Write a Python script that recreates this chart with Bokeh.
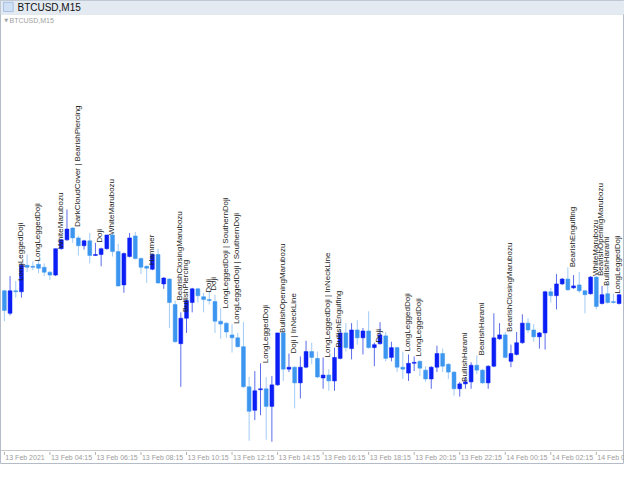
import math
from bokeh.plotting import figure
from bokeh.models import ColumnDataSource, Range1d, BoxAnnotation, Span
from bokeh.core.properties import value
from bokeh.embed import file_html
from bokeh.resources import INLINE

# ---- data (BTCUSD, M15) ----
open_ = [47000, 46770, 47000, 46990, 47260, 47250, 47270, 47240, 47190, 47160,
         47430, 47520, 47640, 47540, 47460, 47510, 47360, 47370, 47430, 47570,
         47400, 47060, 47350, 47560, 47330, 47250, 47220, 47370, 47070, 47120,
         46860, 46460, 46720, 46880, 47020, 46940, 46910, 46890, 46690, 46670,
         46550, 46520, 46430, 46020, 45780, 45990, 46000, 45820, 46040, 46570,
         46200, 46220, 46060, 46220, 46380, 46310, 46110, 46140, 46080, 46310,
         46570, 46410, 46600, 46520, 46590, 46420, 46460, 46540, 46320, 46420,
         46220, 46160, 46260, 46280, 46190, 46100, 46220, 46360, 46250, 46170,
         46000, 46050, 46070, 46240, 46190, 46060, 46230, 46510, 46550, 46280,
         46350, 46470, 46670, 46600, 46530, 46570, 46990, 46950, 47070, 47120,
         47030, 47060, 47000, 46970, 47140, 46870, 46970, 46890, 46870]
high = [47010, 47150, 47100, 47280, 47370, 47300, 47320, 47280, 47200, 47430,
        47530, 47830, 47650, 47560, 47520, 47590, 47490, 47440, 47570, 47580,
        47480, 47390, 47590, 47600, 47340, 47260, 47380, 47430, 47140, 47130,
        46900, 46780, 46910, 47030, 47030, 46980, 47000, 46960, 46820, 46680,
        46660, 46570, 46680, 46120, 46180, 46260, 46120, 46130, 46570, 46580,
        46360, 46230, 46330, 46490, 46470, 46380, 46320, 46200, 46420, 46600,
        46670, 46670, 46700, 46620, 46790, 46470, 46680, 46580, 46480, 46430,
        46380, 46350, 46330, 46290, 46230, 46230, 46440, 46410, 46260, 46180,
        46070, 46120, 46270, 46340, 46200, 46240, 46770, 46670, 46580, 46450,
        46580, 46760, 46720, 46660, 46580, 47000, 47030, 47170, 47130, 47240,
        47160, 47190, 47010, 47150, 47150, 47050, 47080, 46970, 46970]
low = [46690, 46750, 46930, 46930, 47190, 47210, 47180, 47150, 47110, 47150,
       47420, 47510, 47490, 47360, 47420, 47280, 47360, 47250, 47420, 47350,
       47040, 46980, 47340, 47320, 47170, 47080, 47210, 47070, 47020, 46620,
       46470, 46020, 46570, 46780, 46880, 46780, 46860, 46570, 46510, 46520,
       46370, 46420, 46010, 45470, 45680, 45730, 45480, 45460, 46030, 46080,
       46170, 45800, 45900, 46210, 46250, 46110, 46000, 45980, 45980, 46300,
       46380, 46300, 46450, 46350, 46410, 46230, 46450, 46280, 46280, 46170,
       46100, 46080, 46180, 46130, 46070, 46000, 46170, 46170, 46100, 45930,
       45920, 46000, 46000, 46150, 46050, 46000, 46220, 46500, 46310, 46220,
       46340, 46460, 46570, 46480, 46410, 46400, 46880, 46810, 47060, 47000,
       47020, 46980, 46770, 46960, 46810, 46860, 46870, 46870, 46860]
close = [46800, 47000, 46990, 47260, 47240, 47240, 47230, 47190, 47160, 47430,
         47520, 47630, 47540, 47460, 47510, 47360, 47370, 47430, 47570, 47400,
         47050, 47380, 47540, 47330, 47240, 47230, 47370, 47080, 47130, 46880,
         46480, 46720, 46900, 47020, 46950, 46910, 46900, 46690, 46660, 46580,
         46520, 46430, 46020, 45770, 45980, 46000, 45820, 46040, 46570, 46200,
         46220, 46060, 46220, 46380, 46320, 46120, 46140, 46080, 46320, 46570,
         46420, 46600, 46520, 46590, 46420, 46450, 46550, 46310, 46420, 46220,
         46200, 46260, 46270, 46210, 46100, 46220, 46360, 46230, 46170, 46000,
         46050, 46070, 46240, 46190, 46060, 46230, 46520, 46550, 46320, 46360,
         46470, 46670, 46600, 46530, 46570, 46990, 46950, 47070, 47120, 47010,
         47050, 47000, 46960, 47140, 46840, 46960, 46880, 46880, 46960]

pattern_bar = [2, 5, 9, 12, 16, 18, 25, 30, 31, 35, 36, 38, 40, 45, 48, 50, 56,
               58, 65, 70, 72, 80, 83, 88, 99, 103, 104, 105, 107]
pattern_name = ["LongLeggedDoji", "LongLeggedDoji", "WhiteMarubozu",
                "DarkCloudCover | BearishPiercing", "Doji", "WhiteMarubozu",
                "Hammer", "BearishClosingMarubozu", "BullishPiercing", "Doji",
                "Doji", "LongLeggedDoji | SouthernDoji",
                "LongLeggedDoji | SouthernDoji", "LongLeggedDoji",
                "BullishOpeningMarubozu", "Doji | InNeckLine",
                "LongLeggedDoji | InNeckLine", "BullishEngulfing", "Doji",
                "LongLeggedDoji", "LongLeggedDoji", "BullishHarami",
                "BearishHarami", "BearishClosingMarubozu", "BearishEngulfing",
                "WhiteMarubozu", "BearishOpeningMarubozu", "BullishHarami",
                "LongLeggedDoji"]

time_tick_bar = [0, 8, 16, 24, 32, 40, 48, 56, 64, 72, 80, 88, 96, 104]
time_tick_label = ["13 Feb 2021", "13 Feb 04:15", "13 Feb 06:15", "13 Feb 08:15",
                   "13 Feb 10:15", "13 Feb 12:15", "13 Feb 14:15", "13 Feb 16:15",
                   "13 Feb 18:15", "13 Feb 20:15", "13 Feb 22:15", "14 Feb 00:15",
                   "14 Feb 02:15", "14 Feb 04:15"]

symbol_title = "BTCUSD,M15"

# ---- styling ----
BULL = "#0A1EF5"
BEAR = "#3C96F0"
BULL_WICK = "#5C6CEB"
BEAR_WICK = "#A2CBF5"

n = len(open_)
idx = list(range(n))
is_bull = [c >= o for o, c in zip(open_, close)]
src = ColumnDataSource(dict(
    x=idx,
    high=high,
    low=low,
    top=[max(o, c) for o, c in zip(open_, close)],
    bottom=[min(o, c) for o, c in zip(open_, close)],
    body=[BULL if b else BEAR for b in is_bull],
    wick=[BULL_WICK if b else BEAR_WICK for b in is_bull],
))

AXIS_PRICE = 45370          # price level of the time-axis line
p = figure(width=624, height=464, output_backend="svg", toolbar_location=None,
           x_range=Range1d(-0.68, 108.95), y_range=Range1d(45227, 49963),
           x_axis_location=None, y_axis_location=None, min_border=0,
           background_fill_color="white", border_fill_color="white")
p.xgrid.visible = False
p.ygrid.visible = False
p.outline_line_color = "#b4bcc8"

# window title bar
p.add_layout(BoxAnnotation(bottom=49820, fill_color="#e4eaf2", fill_alpha=1.0,
                           line_color="#c2cad6", line_width=1, level="underlay"))
p.add_layout(BoxAnnotation(left=-0.15, right=1.55, bottom=49850, top=49945,
                           fill_color="#cfe0f5", fill_alpha=1.0,
                           line_color="#3a6fc0", line_width=1, level="underlay"))
p.text(x=[2.3], y=[49892], text=[symbol_title], text_align="left",
       text_baseline="middle", text_font=value("Liberation Sans"),
       text_font_size="10px", text_color="#101010")
# chart sub-title
p.text(x=[0.0], y=[49762], text=["\u25BC"], text_align="left",
       text_baseline="middle", text_font=value("DejaVu Sans"),
       text_font_size="5px", text_color="#a0a0a0")
p.text(x=[0.9], y=[49762], text=[symbol_title], text_align="left",
       text_baseline="middle", text_font=value("Liberation Sans"),
       text_font_size="7px", text_color="#a0a0a0")

# candles
p.segment(x0="x", y0="low", x1="x", y1="high", line_color="wick",
          line_width=1, source=src)
p.vbar(x="x", width=0.68, top="top", bottom="bottom", fill_color="body",
       line_color="body", line_width=0.5, source=src)

# pattern labels
lab = ColumnDataSource(dict(
    x=pattern_bar,
    y=[high[i] for i in pattern_bar],
    text=pattern_name,
))
p.text(x="x", y="y", text="text", source=lab, angle=math.pi / 2,
       text_align="left", text_baseline="top",
       text_font=value("Liberation Sans"), text_font_size="8px",
       text_color="#1c1c1c")

# time axis
p.add_layout(Span(location=AXIS_PRICE, dimension="width",
                  line_color="#c8c8c8", line_width=1))
p.segment(x0=time_tick_bar, x1=time_tick_bar,
          y0=[AXIS_PRICE - 15] * len(time_tick_bar),
          y1=[AXIS_PRICE - 45] * len(time_tick_bar),
          line_color="#b0b0b0", line_width=1)
p.text(x=time_tick_bar, y=[AXIS_PRICE - 75] * len(time_tick_bar),
       text=time_tick_label, x_offset=1, text_align="left",
       text_baseline="middle", text_font=value("Liberation Sans"),
       text_font_size="7px", text_color="#9c9c9c")

open("out.html", "w").write(file_html(p, INLINE))
